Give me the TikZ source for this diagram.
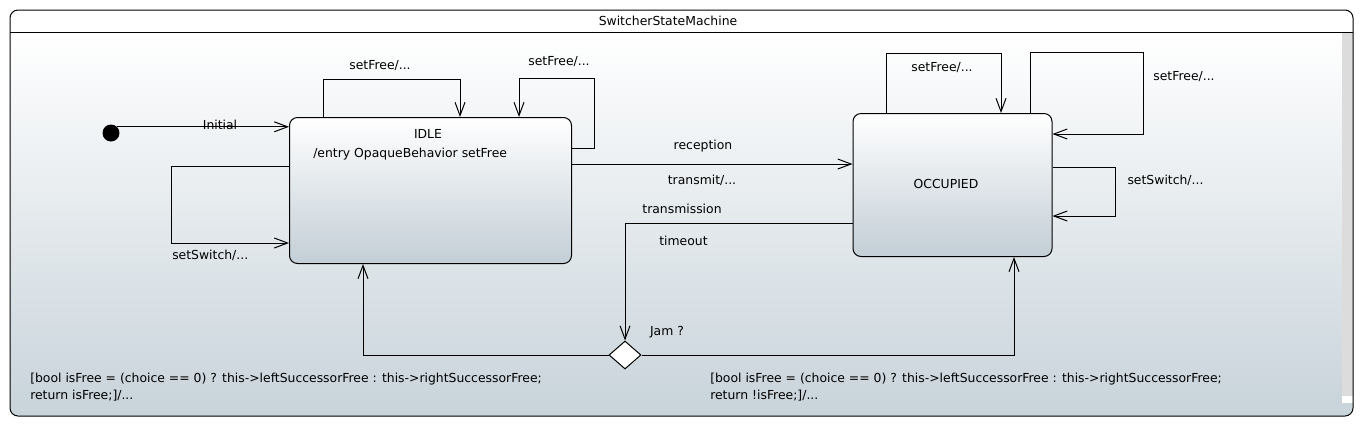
\documentclass[tikz,border=0pt]{standalone}
\usepackage{fontspec}
\setmainfont{DejaVu Sans}
\usepackage{tikz}
\usetikzlibrary{arrows,arrows.meta,shapes.geometric}

\definecolor{bgbottom}{RGB}{200,211,218}
\definecolor{statebottom}{RGB}{195,206,214}
\definecolor{scrollgray}{RGB}{220,220,220}

\tikzset{
  statebox/.style={draw, line width=0.75pt, rounded corners=6pt, top color=white, bottom color=statebottom, inner sep=0pt},
  trans/.style={line width=0.75pt, -{Straight Barb[length=10pt,width=7.5pt]}},
  lbl/.style={inner sep=0pt, font=\fontsize{9.3}{12.75}\selectfont},
}

\begin{document}
\begin{tikzpicture}[x=0.75pt,y=-0.75pt]

        \useasboundingbox (0,0) rectangle (1364,430);

        \begin{scope}
        \clip[rounded corners=6pt] (10,10) rectangle (1353,416);
        \fill[white] (10,10) rectangle (1353,32);
        \shade[top color=white, bottom color=bgbottom] (10,32) rectangle (1353,416);
        \fill[scrollgray] (1342,32) rectangle (1353,396);
        \fill[white] (1342,396) rectangle (1353,403);
        \end{scope}
        \draw[line width=0.75pt, rounded corners=6pt] (10,10) rectangle (1353,416);
        \draw[line width=0.75pt] (10,32) -- (1353,32);
        \node[lbl] (title) at (668,21) {SwitcherStateMachine};

        \node[statebox, minimum width=211.5pt, minimum height=109.5pt] (idle) at (430.5,190.5) {};
        \node[lbl] (idlename) at (428,134) {IDLE};
        \node[lbl, anchor=west] (idleentry) at (313,154) {/entry OpaqueBehavior setFree};

        \node[statebox, minimum width=149.25pt, minimum height=107.25pt] (occ) at (952.5,185) {};
        \node[lbl] (occname) at (946,184) {OCCUPIED};

        \node[circle, fill=black, minimum size=12.75pt, inner sep=0pt] (init) at (111,133) {};
        \node[diamond, draw, fill=white, line width=0.75pt, minimum width=24pt, minimum height=21pt, inner sep=0pt] (jam) at (625,355) {};

        \draw[trans] (init.45) -- (init.45 -| idle.west);
        \node[lbl] (initlbl) at (220,125) {Initial};

        \coordinate (i1) at (323,79);
        \coordinate (i2) at (460,79);
        \draw[trans] (idle.north -| i1) -- (i1) -- (i2) -- (idle.north -| i2);
        \node[lbl] (i1lbl) at (380,66) {setFree/...};

        \coordinate (i3) at (594,148);
        \coordinate (i4) at (594,78);
        \coordinate (i5) at (519,78);
        \draw[trans] (idle.east |- i3) -- (i3) -- (i4) -- (i5) -- (idle.north -| i5);
        \node[lbl] (i2lbl) at (559,62) {setFree/...};

        \coordinate (i6) at (171,166);
        \coordinate (i7) at (171,243);
        \draw[trans] (idle.west |- i6) -- (i6) -- (i7) -- (idle.west |- i7);
        \node[lbl, anchor=west] (i3lbl) at (172,255) {setSwitch/...};

        \coordinate (r1) at (600,164);
        \draw[trans] (idle.east |- r1) -- (occ.west |- r1);
        \node[lbl] (reclbl) at (703,146) {reception};
        \node[lbl] (translbl) at (702,180) {transmit/...};

        \coordinate (t1) at (625,223);
        \draw[trans] (occ.west |- t1) -- (t1) -- (jam.north);
        \node[lbl] (tmlbl) at (682,209) {transmission};
        \node[lbl] (tolbl) at (683.5,241) {timeout};

        \coordinate (j1) at (363,355);
        \coordinate (j2) at (1014,355);
        \draw[trans] (jam.west) -- (j1) -- (j1 |- idle.south);
        \draw[trans] (jam.east) -- (j2) -- (j2 |- occ.south);
        \node[lbl] (jamlbl) at (667,332) {Jam ?};

        \coordinate (o1) at (886,53);
        \coordinate (o2) at (1001,53);
        \draw[trans] (occ.north -| o1) -- (o1) -- (o2) -- (occ.north -| o2);
        \node[lbl] (o1lbl) at (942,68) {setFree/...};

        \coordinate (o3) at (1030,52);
        \coordinate (o4) at (1143,52);
        \coordinate (o5) at (1143,134);
        \draw[trans] (occ.north -| o3) -- (o3) -- (o4) -- (o5) -- (occ.east |- o5);
        \node[lbl] (o2lbl) at (1184,77) {setFree/...};

        \coordinate (o6) at (1115,167);
        \coordinate (o7) at (1115,216);
        \draw[trans] (occ.east |- o6) -- (o6) -- (o7) -- (occ.east |- o7);
        \node[lbl] (o3lbl) at (1165.5,180) {setSwitch/...};

        \node[lbl, anchor=west, align=left] (guardl) at (30,387.5) {[bool isFree = (choice == 0) ? this->leftSuccessorFree : this->rightSuccessorFree;\\return isFree;]/...};
        \node[lbl, anchor=west, align=left] (guardr) at (710,387.5) {[bool isFree = (choice == 0) ? this->leftSuccessorFree : this->rightSuccessorFree;\\return !isFree;]/...};

\end{tikzpicture}
\end{document}
